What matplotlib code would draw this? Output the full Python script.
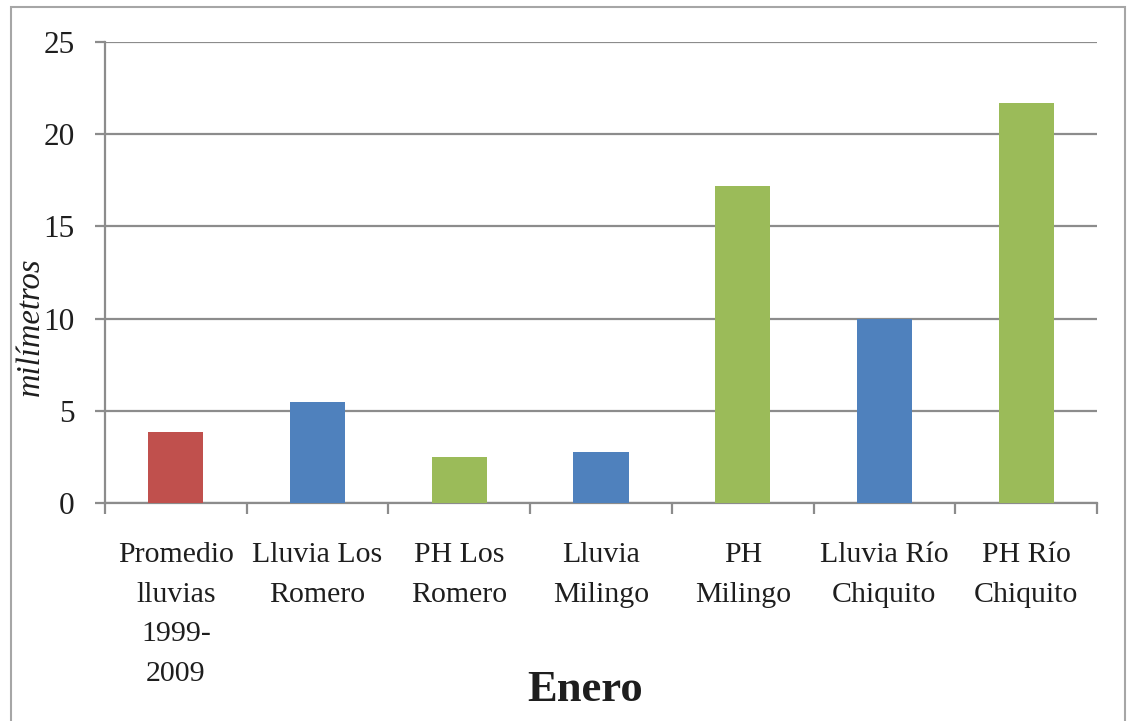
import matplotlib
matplotlib.use("Agg")
import matplotlib.pyplot as plt
from matplotlib.patches import Rectangle
import numpy as np

categories = [
    "Promedio\nlluvias\n1999-\n2009",
    "Lluvia Los\nRomero",
    "PH Los\nRomero",
    "Lluvia\nMilingo",
    "PH\nMilingo",
    "Lluvia Río\nChiquito",
    "PH Río\nChiquito",
]
values = [3.85, 5.5, 2.5, 2.75, 17.2, 10.0, 21.7]
bar_colors = ["#c0504d", "#4f81bd", "#9bbb59", "#4f81bd", "#9bbb59", "#4f81bd", "#9bbb59"]
y_ticks = [0, 5, 10, 15, 20, 25]

W, H = 1130, 721
fig = plt.figure(figsize=(W / 100, H / 100), dpi=100)
fig.patch.set_facecolor("white")

plt.rcParams["font.family"] = ["Liberation Serif", "DejaVu Serif"]

# outer chart frame
frame = Rectangle((11 / W, -0.05), (1125 - 11) / W, 1.05 - 7 / H,
                  transform=fig.transFigure, fill=False,
                  edgecolor="#a6a6a6", linewidth=1.5, zorder=0)
fig.add_artist(frame)

left, right, top, bottom = 105, 1097, 42, 503
ax = fig.add_axes([left / W, 1 - bottom / H, (right - left) / W, (bottom - top) / H])

x = np.arange(len(categories))
ax.bar(x, values, width=0.39, color=bar_colors, zorder=3)

grid_color = "#8c8c8c"
text_color = "#1e1e1e"
ax.set_xlim(-0.5, len(categories) - 0.5)
ax.set_ylim(0, 25)
ax.set_yticks(y_ticks)
ax.set_yticklabels([str(v) for v in y_ticks])
ax.yaxis.grid(True, color=grid_color, linewidth=1.6, zorder=0)
ax.set_axisbelow(True)

for side in ["top", "right"]:
    ax.spines[side].set_visible(False)
for side in ["left", "bottom"]:
    ax.spines[side].set_color(grid_color)
    ax.spines[side].set_linewidth(1.6)

ax.tick_params(axis="y", length=7, width=1.6, color=grid_color, pad=15,
               labelsize=22.5, labelcolor=text_color)

# category labels at bar centres, tick marks at category boundaries
ax.set_xticks(x)
ax.set_xticklabels(categories, fontsize=21.5, color=text_color, linespacing=1.69)
ax.tick_params(axis="x", which="major", length=0, pad=28)
ax.set_xticks(np.arange(-0.5, len(categories), 1.0), minor=True)
ax.tick_params(axis="x", which="minor", length=8, width=1.6, color=grid_color)

fig.text(31 / W, 1 - 327 / H, "milímetros", rotation=90, fontsize=23.5,
         fontstyle="italic", color=text_color, ha="center", va="center")
fig.text(585 / W, 1 - 690 / H, "Enero", fontsize=32, fontweight="bold",
         color=text_color, ha="center", va="center")

fig.savefig("out.png", dpi=100, facecolor="white")
